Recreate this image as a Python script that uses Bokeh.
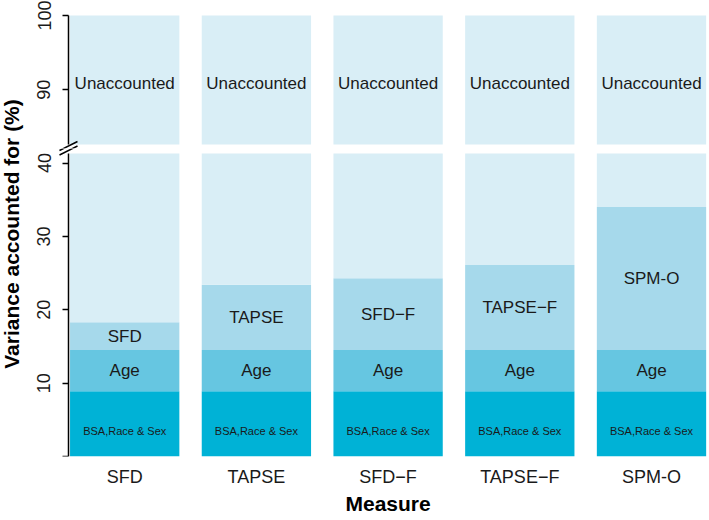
import math
import numpy as np
from bokeh.plotting import figure
from bokeh.models import ColumnDataSource, Range1d, FixedTicker, Label, LinearAxis, Title
from bokeh.layouts import row, column
from bokeh.embed import file_html
from bokeh.resources import INLINE
from bokeh.core.properties import value

# ---------------- data ----------------
categories = ["SFD", "TAPSE", "SFD\u2212F", "TAPSE\u2212F", "SPM-O"]
bsa_race_sex = [8.9, 8.9, 8.9, 8.9, 8.9]       # % variance
age = [5.6, 5.6, 5.6, 5.6, 5.6]                # % variance added by age
measure = [3.8, 8.9, 9.8, 11.6, 19.5]          # % variance added by measure
total_pct = 100
lower_ticks = [0, 10, 20, 30, 40]
upper_ticks = [90, 100]
lower_limit = 41.3      # top of lower panel
upper_start = 82.6      # bottom of upper panel

# ---------------- style / layout ----------------
FONT = "Liberation Sans"
TXT = "#1a1a1a"
C_BSA, C_AGE, C_MEAS, C_UNACC = "#00b2d6", "#66c6e1", "#a6d9eb", "#d9eef6"

TITLE_W = 26
FIG_W = 709 - TITLE_W
FRAME_LEFT = TITLE_W
AXIS_X = 68
PITCH = 131.7
FIRST_CENTER = 124.2
UP_TOP, UP_BOTTOM = 15, 144      # pixel rows of 100 and upper_start
SEAM = 148                        # boundary between the two figures
LO_TOP, LO_BOTTOM = 153, 456      # pixel rows of lower_limit and 0
BOTTOM = 515
BAR_W = 0.83
XLABEL_W = 85                     # approx. width of the bold "Measure" label

x_start = 1 - (FIRST_CENTER - FRAME_LEFT) / PITCH
x_end = x_start + FIG_W / PITCH
axis_x = 1 - (FIRST_CENTER - AXIS_X) / PITCH

s_up = (UP_BOTTOM - UP_TOP) / (total_pct - upper_start)     # px per unit
s_lo = (LO_BOTTOM - LO_TOP) / lower_limit
up_range_start = upper_start - (SEAM - UP_BOTTOM) / s_up
up_range_end = total_pct + UP_TOP / s_up
lo_range_end = lower_limit + (LO_TOP - SEAM) / s_lo

n = len(categories)
x = np.arange(1, n + 1)
b1 = np.array(bsa_race_sex, dtype=float)
b2 = b1 + np.array(age)
b3 = b2 + np.array(measure)
b4 = np.full(n, float(total_pct))

src = ColumnDataSource(dict(
    x=x, z=np.zeros(n), b1=b1, b2=b2, b3=b3,
    b4_lo=np.minimum(b4, lower_limit),
    b3_up=np.maximum(b3, upper_start), b4=b4,
    cat=categories,
    y_bsa=b1 * 0.39,
    y_age=(b1 + b2) / 2,
    y_meas=(b2 + b3) / 2,
    y_unacc=np.full(n, upper_start + 0.47 * (total_pct - upper_start)),
    t_bsa=["BSA,Race & Sex"] * n,
    t_age=["Age"] * n,
    t_unacc=["Unaccounted"] * n,
))

xr = Range1d(x_start, x_end)


def style_common(p):
    p.outline_line_color = None
    p.xgrid.grid_line_color = None
    p.ygrid.grid_line_color = None
    p.background_fill_color = "white"
    p.border_fill_color = "white"


def make_yaxis(ticks, bounds, overrides=None):
    ax = LinearAxis(fixed_location=axis_x, bounds=bounds, ticker=FixedTicker(ticks=ticks))
    ax.minor_tick_line_color = None
    ax.major_tick_out = 6
    ax.major_tick_in = 0
    ax.axis_line_width = 1.5
    ax.major_tick_line_width = 1.5
    ax.axis_line_color = "black"
    ax.major_tick_line_color = "black"
    ax.major_label_orientation = "vertical"
    ax.major_label_text_font = FONT
    ax.major_label_text_font_size = "18px"
    ax.major_label_text_color = TXT
    ax.major_label_standoff = 12
    if overrides:
        ax.major_label_overrides = overrides
    return ax


def px_x(px):
    return x_start + (px - FRAME_LEFT) / PITCH


def up_y(py):
    return upper_start + (UP_BOTTOM - py) / s_up


def lo_y(py):
    return (LO_BOTTOM - py) / s_lo


# axis-break marks "//" (image pixels), crossing the y axis between panels
slash_x0, slash_x1 = [59, 59], [77, 77]
slash_y0, slash_y1 = [150.0, 154.5], [141.0, 145.5]

# ---------------- upper panel ----------------
up = figure(width=FIG_W, height=SEAM, x_range=xr,
            y_range=Range1d(up_range_start, up_range_end),
            min_border_left=0, min_border_right=0,
            min_border_top=0, min_border_bottom=0,
            x_axis_location=None, y_axis_location=None,
            output_backend="svg", toolbar_location=None)
style_common(up)
up.vbar(x="x", width=BAR_W, bottom="b3_up", top="b4", source=src, fill_color=C_UNACC, line_color=None)
up.text(x="x", y="y_unacc", text="t_unacc", source=src, text_font=value(FONT),
        text_font_size="17px", text_align="center", text_baseline="middle", text_color=TXT)
up.segment(x0=[px_x(v) for v in slash_x0], y0=[up_y(v) for v in slash_y0],
           x1=[px_x(v) for v in slash_x1], y1=[up_y(v) for v in slash_y1],
           line_color="black", line_width=1.5)
up.add_layout(make_yaxis(upper_ticks, (upper_start, total_pct)), "left")

# ---------------- lower panel ----------------
lo = figure(width=FIG_W, height=BOTTOM - SEAM, x_range=xr,
            y_range=Range1d(0, lo_range_end),
            min_border_left=0, min_border_right=0,
            min_border_top=0, min_border_bottom=BOTTOM - LO_BOTTOM,
            y_axis_location=None,
            output_backend="svg", toolbar_location=None)
style_common(lo)
lo.vbar(x="x", width=BAR_W, bottom="z", top="b1", source=src, fill_color=C_BSA, line_color=None)
lo.vbar(x="x", width=BAR_W, bottom="b1", top="b2", source=src, fill_color=C_AGE, line_color=None)
lo.vbar(x="x", width=BAR_W, bottom="b2", top="b3", source=src, fill_color=C_MEAS, line_color=None)
lo.vbar(x="x", width=BAR_W, bottom="b3", top="b4_lo", source=src, fill_color=C_UNACC, line_color=None)
lo.text(x="x", y="y_bsa", text="t_bsa", source=src, text_font=value(FONT),
        text_font_size="11px", text_align="center", text_baseline="middle", text_color=TXT)
lo.text(x="x", y="y_age", text="t_age", source=src, text_font=value(FONT),
        text_font_size="17px", text_align="center", text_baseline="middle", text_color=TXT)
lo.text(x="x", y="y_meas", text="cat", source=src, text_font=value(FONT),
        text_font_size="17px", text_align="center", text_baseline="middle", text_color=TXT)
lo.segment(x0=[px_x(v) for v in slash_x0], y0=[lo_y(v) for v in slash_y0],
           x1=[px_x(v) for v in slash_x1], y1=[lo_y(v) for v in slash_y1],
           line_color="black", line_width=1.5)
lo.add_layout(make_yaxis(lower_ticks, (0, lower_limit), {0: ""}), "left")

xa = lo.xaxis[0]
xa.ticker = FixedTicker(ticks=list(x))
xa.major_label_overrides = {int(i): c for i, c in zip(x, categories)}
xa.axis_line_color = None
xa.major_tick_line_color = None
xa.minor_tick_line_color = None
xa.major_tick_out = 0
xa.major_tick_in = 0
xa.major_label_standoff = 10
xa.major_label_text_font = FONT
xa.major_label_text_font_size = "18px"
xa.major_label_text_color = TXT

# x-axis title, centred under the bars (right of the y axis)
bars_mid_px = (AXIS_X + TITLE_W + FIG_W) / 2
lo.add_layout(Title(text="Measure", align="left",
                    offset=bars_mid_px - XLABEL_W / 2 - FRAME_LEFT - 1,
                    standoff=0, text_font=FONT, text_font_size="21px",
                    text_font_style="bold", text_color="black"), "below")

# ---------------- y title ----------------
H = BOTTOM
tf = figure(width=TITLE_W, height=H, x_range=Range1d(0, TITLE_W), y_range=Range1d(0, H),
            min_border=0, x_axis_location=None, y_axis_location=None,
            output_backend="svg", toolbar_location=None)
style_common(tf)
tf.add_layout(Label(x=10.5, y=H - 233.5, text="Variance accounted for (%)",
                    angle=math.pi / 2, text_align="center", text_baseline="middle",
                    text_font=FONT, text_font_size="21px", text_font_style="bold",
                    text_color="black"))

layout = row(tf, column(up, lo))
open("out.html", "w").write(file_html(layout, INLINE))
